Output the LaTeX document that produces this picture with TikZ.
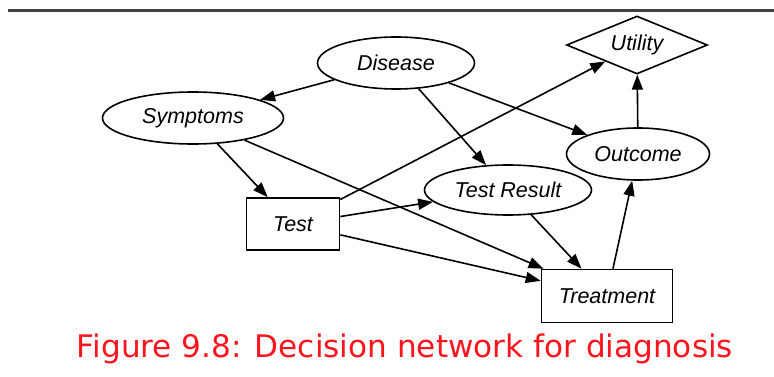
\documentclass[tikz,border=0pt]{standalone}
\usepackage{fontspec}
\setmainfont{Liberation Sans}
\newfontfamily\capfont{DejaVu Sans}
\usetikzlibrary{shapes.geometric,arrows.meta}
\definecolor{capred}{RGB}{255,20,30}
\begin{document}
\begin{tikzpicture}[x=1pt,y=-1pt,
  every node/.style={font=\fontsize{21.5}{23}\selectfont\itshape, line width=1.6pt, inner sep=0pt},
  chance/.style={draw, ellipse, minimum width=#1, minimum height=52pt},
  decide/.style={draw, rectangle},
  util/.style={draw, diamond, aspect=2.4, minimum width=141pt, minimum height=58pt},
  edge/.style={line width=1.6pt, -{Triangle[length=15pt,width=11pt]}}
  ]
\useasboundingbox (0,0) rectangle (774,377);
\coordinate (l0) at (8,10.5);
\coordinate (l1) at (774,10.5);
\draw[line width=2.4pt, black!75] (l0) -- (l1);

\node[chance=157pt] (dis) at (396,63) {Disease};
\node[chance=181pt] (sym) at (193,118) {Symptoms};
\node[util] (uti) at (637,45) {Utility};
\node[chance=143pt] (out) at (638,154) {Outcome};
\node[chance=167pt, minimum height=50pt] (tr) at (508,190) {Test Result};
\node[decide, minimum width=93pt, minimum height=52pt] (test) at (293,224) {Test};
\node[decide, minimum width=131pt, minimum height=53pt] (treat) at (607,296) {Treatment};

\draw[edge] (dis) -- (sym);
\draw[edge] (dis) -- (tr);
\draw[edge] (dis) -- (out);
\draw[edge] (sym) -- (test);
\draw[edge] (sym) -- (treat);
\draw[edge] (test) -- (uti);
\draw[edge] (test) -- (tr);
\draw[edge] (test) -- (treat);
\draw[edge] (tr) -- (treat);
\draw[edge] (treat) -- (out);
\draw[edge] (out) -- (uti);

\node[font=\capfont, text=capred, anchor=base] (cap) at (405,357.5)
  {\resizebox{656pt}{!}{\fontsize{27}{30}\selectfont Figure 9.8: Decision network for diagnosis}};
\end{tikzpicture}
\end{document}
